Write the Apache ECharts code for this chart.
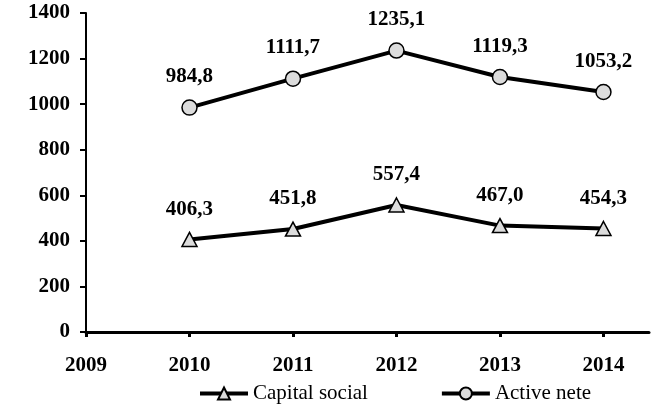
<!DOCTYPE html>
<html>
<head>
<meta charset="utf-8">
<script src="https://cdn.jsdelivr.net/npm/echarts@6/dist/echarts.min.js"></script>
<style>
html,body{margin:0;padding:0;background:#fff;}
#c{width:668px;height:404px;}
</style>
</head>
<body>
<div id="c"></div>
<script>
var years = [2010, 2011, 2012, 2013, 2014];
var xTicks = [2009, 2010, 2011, 2012, 2013, 2014];
var capitalSocial = [406.3, 451.8, 557.4, 467.0, 454.3];
var activeNete = [984.8, 1111.7, 1235.1, 1119.3, 1053.2];
var seriesNames = ['Capital social', 'Active nete'];

function pairs(vals){ return years.map(function(y,i){ return [y, vals[i]]; }); }
function fmt(v){ return v.toFixed(1).replace('.', ','); }

var font = '"Liberation Serif", "Times New Roman", serif';
var chart = echarts.init(document.getElementById('c'));
var labelCfg = {
  show: true, position: 'top', distance: 12,
  fontFamily: font, fontWeight: 'bold', fontSize: 21, color: '#000',
  formatter: function(p){ return fmt(p.value[1]); }
};
chart.setOption({
  animation: false,
  grid: {left: 86, right: 19, top: 13, bottom: 72, containLabel: false},
  legend: {
    top: 378, left: 193, itemGap: 72, itemWidth: 48, itemHeight: 15,
    textStyle: {fontFamily: font, fontSize: 21, color: '#000'},
    lineStyle: {width: 4, color: '#000'},
    data: seriesNames
  },
  xAxis: {
    type: 'value', min: 2009, max: 2014.44, interval: 1,
    splitLine: {show: false},
    axisLine: {show: true, lineStyle: {color: '#000', width: 3}},
    axisTick: {show: true, length: 5, lineStyle: {color: '#000', width: 3},
      customValues: xTicks},
    axisLabel: {
      fontFamily: font, fontWeight: 'bold', fontSize: 21, color: '#000', margin: 23,
      customValues: xTicks,
      formatter: function(v){ return String(Math.round(v)); }
    }
  },
  yAxis: {
    type: 'value', min: 0, max: 1400, interval: 200,
    splitLine: {show: false},
    axisLine: {show: true, lineStyle: {color: '#000', width: 2}},
    axisTick: {show: true, length: 6, lineStyle: {color: '#000', width: 2}},
    axisLabel: {fontFamily: font, fontWeight: 'bold', fontSize: 21, color: '#000', margin: 16,
      formatter: function(v){ return String(v); }}
  },
  series: [
    {
      name: seriesNames[0], type: 'line', data: pairs(capitalSocial),
      symbol: 'triangle', symbolSize: [15, 14],
      lineStyle: {color: '#000', width: 4},
      itemStyle: {color: '#dcdcdc', borderColor: '#000', borderWidth: 1.5},
      label: labelCfg
    },
    {
      name: seriesNames[1], type: 'line', data: pairs(activeNete),
      symbol: 'circle', symbolSize: 15,
      lineStyle: {color: '#000', width: 4},
      itemStyle: {color: '#dcdcdc', borderColor: '#000', borderWidth: 1.5},
      label: labelCfg
    }
  ]
});
</script>
</body>
</html>
